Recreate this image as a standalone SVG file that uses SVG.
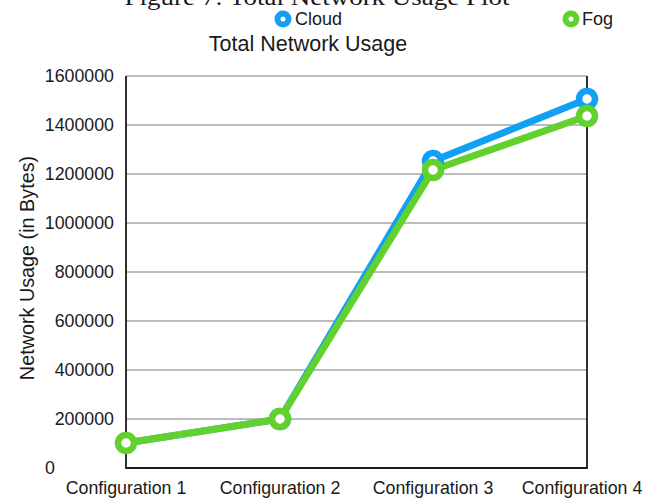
<svg xmlns="http://www.w3.org/2000/svg" width="661" height="498" viewBox="0 0 661 498">
<style>
.t{font-family:"Liberation Sans",Arial,sans-serif;fill:#1a1a1a}
.tick{font-size:17.8px;text-anchor:end}
.xl{font-size:17.8px;text-anchor:middle}
.grid{stroke:#a6a6a6;stroke-width:1.5}
.ax{stroke:#1a1a1a;stroke-width:1.8;fill:none}
.cl{stroke:#12a0f5}
.fg{stroke:#62d12e}
.ln{fill:none;stroke-width:7;stroke-linejoin:round;stroke-linecap:round}
.mk{fill:#fff;stroke-width:6.5}
.lg{fill:#fff;stroke-width:6}
</style>
<rect width="661" height="498" fill="#fff"/>
<text x="317" y="5" font-family="Liberation Serif,serif" font-size="24" text-anchor="middle" textLength="385" lengthAdjust="spacingAndGlyphs" fill="#1a1a1a">Figure 7: Total Network Usage Plot</text>
<g id="legend">
<circle class="lg cl" cx="283" cy="19" r="5.5"/>
<text class="t" x="295" y="25" font-size="18">Cloud</text>
<circle class="lg fg" cx="571" cy="19" r="5.5"/>
<text class="t" x="582" y="25" font-size="18">Fog</text>
</g>
<text id="title" class="t" x="308" y="51" font-size="21.5" text-anchor="middle">Total Network Usage</text>
<g id="grid">
<line class="grid" x1="126" y1="76" x2="587" y2="76"/>
<line class="grid" x1="126" y1="125" x2="587" y2="125"/>
<line class="grid" x1="126" y1="174" x2="587" y2="174"/>
<line class="grid" x1="126" y1="223" x2="587" y2="223"/>
<line class="grid" x1="126" y1="272" x2="587" y2="272"/>
<line class="grid" x1="126" y1="321" x2="587" y2="321"/>
<line class="grid" x1="126" y1="370" x2="587" y2="370"/>
<line class="grid" x1="126" y1="419" x2="587" y2="419"/>
<path class="ax" d="M126 76 V468 H587 V76"/>
</g>
<g id="yticks" class="t tick">
<text x="114" y="82">1600000</text>
<text x="114" y="131">1400000</text>
<text x="114" y="180">1200000</text>
<text x="114" y="229">1000000</text>
<text x="114" y="278">800000</text>
<text x="114" y="327">600000</text>
<text x="114" y="376">400000</text>
<text x="114" y="425">200000</text>
<text x="55" y="474">0</text>
</g>
<text class="t" font-size="19.8" text-anchor="middle" transform="translate(34 268) rotate(-90)">Network Usage (in Bytes)</text>
<g id="xlabels" class="t xl">
<text x="126" y="494">Configuration 1</text>
<text x="280" y="494">Configuration 2</text>
<text x="433" y="494">Configuration 3</text>
<text x="582" y="494">Configuration 4</text>
</g>
<g id="connectors">
<polyline class="ln cl" points="126,443 280,419 433,161 587,99"/>
<polyline class="ln fg" points="126,443 280,419 433,170 587,116"/>
</g>
<g id="cloud-points">
<circle class="mk cl" cx="280" cy="419" r="8"/>
<circle class="mk cl" cx="433" cy="161" r="8"/>
<circle class="mk cl" cx="587" cy="99" r="8"/>
</g>
<g id="fog-points">
<circle class="mk fg" cx="126" cy="443" r="8"/>
<circle class="mk fg" cx="280" cy="419" r="8"/>
<circle class="mk fg" cx="433" cy="170" r="8"/>
<circle class="mk fg" cx="587" cy="116" r="8"/>
</g>
</svg>
